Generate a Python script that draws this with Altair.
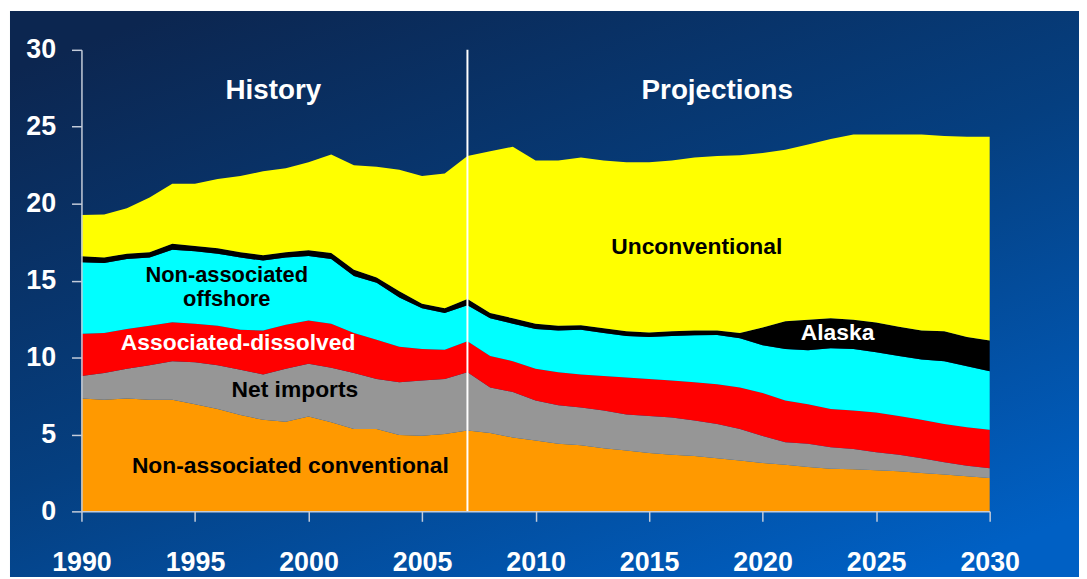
import altair as alt
import pandas as pd

years = list(range(1990, 2031))
series_names = ["Non-associated conventional", "Net imports", "Associated-dissolved",
                "Non-associated offshore", "Alaska", "Unconventional"]
series_colors = ["#FF9900", "#969696", "#FF0000", "#00FFFF", "#000000", "#FFFF00"]

nonassoc_conv = [7.33, 7.25, 7.33, 7.25, 7.25, 6.97, 6.65, 6.26, 5.95, 5.83, 6.17,
                 5.80, 5.35, 5.35, 4.97, 4.92, 5.03, 5.25, 5.10, 4.80, 4.60,
                 4.40, 4.30, 4.10, 3.95, 3.80, 3.68, 3.60, 3.46, 3.30, 3.15,
                 3.03, 2.88, 2.77, 2.73, 2.67, 2.60, 2.50, 2.39, 2.28, 2.17]
net_imports = [1.47, 1.75, 1.94, 2.25, 2.51, 2.73, 2.85, 2.94, 2.95, 3.44, 3.43,
               3.53, 3.65, 3.25, 3.43, 3.58, 3.57, 3.80, 2.95, 2.96, 2.60,
               2.50, 2.45, 2.45, 2.35, 2.40, 2.42, 2.30, 2.22, 2.05, 1.75,
               1.47, 1.52, 1.40, 1.33, 1.18, 1.08, 0.96, 0.81, 0.69, 0.63]
assoc_dissolved = [2.75, 2.60, 2.58, 2.56, 2.54, 2.50, 2.56, 2.60, 2.86, 2.86, 2.80,
                   2.87, 2.60, 2.56, 2.30, 2.06, 1.90, 2.00, 2.05, 2.00, 2.07,
                   2.15, 2.15, 2.25, 2.40, 2.40, 2.40, 2.50, 2.58, 2.70, 2.80,
                   2.70, 2.57, 2.48, 2.50, 2.58, 2.52, 2.49, 2.48, 2.49, 2.50]
offshore = [4.65, 4.55, 4.55, 4.44, 4.70, 4.70, 4.69, 4.70, 4.54, 4.37, 4.20,
            4.20, 3.70, 3.70, 3.20, 2.64, 2.40, 2.35, 2.45, 2.44, 2.58,
            2.71, 2.90, 2.80, 2.70, 2.73, 2.90, 3.04, 3.20, 3.20, 3.10,
            3.36, 3.50, 3.95, 4.00, 3.91, 3.90, 3.92, 4.08, 3.98, 3.80]
alaska = [0.38, 0.35, 0.35, 0.35, 0.40, 0.35, 0.35, 0.35, 0.35, 0.35, 0.37,
          0.40, 0.40, 0.34, 0.40, 0.30, 0.30, 0.40, 0.35, 0.35, 0.35,
          0.30, 0.30, 0.30, 0.30, 0.30, 0.30, 0.32, 0.30, 0.35, 1.15,
          1.79, 1.98, 1.96, 1.89, 1.94, 1.90, 1.89, 1.94, 1.89, 2.00]
unconventional = [2.69, 2.80, 2.95, 3.55, 3.90, 4.05, 4.50, 4.95, 5.45, 5.45, 5.73,
                  6.40, 6.80, 7.20, 7.90, 8.30, 8.76, 9.30, 10.50, 11.15, 10.60,
                  10.74, 10.90, 10.90, 11.00, 11.07, 11.10, 11.24, 11.34, 11.55, 11.35,
                  11.15, 11.40, 11.64, 12.05, 12.22, 12.50, 12.74, 12.70, 13.02, 13.25]

y_ticks = [0, 5, 10, 15, 20, 25, 30]
x_ticks = [1990, 1995, 2000, 2005, 2010, 2015, 2020, 2025, 2030]

all_series = [nonassoc_conv, net_imports, assoc_dissolved, offshore, alaska, unconventional]
rows = []
for k, (name, vals) in enumerate(zip(series_names, all_series)):
    for yr, v in zip(years, vals):
        rows.append({"year": yr, "value": v, "series": name, "k": k})
df = pd.DataFrame(rows)

W, H = 915, 465
PAD = {"left": 74, "top": 40, "right": 90, "bottom": 66}
FONT = "Liberation Sans"
AXC = "#c4ccda"

bg = alt.Chart(pd.DataFrame({"a": [0]})).mark_rect(
    color=alt.LinearGradient(
        gradient="linear",
        stops=[alt.GradientStop(offset=0, color="#0c2650"),
               alt.GradientStop(offset=0.5, color="#053f80"),
               alt.GradientStop(offset=1, color="#0060c4")],
        x1=0.15, y1=0, x2=0.85, y2=1),
).encode(x=alt.value(-72), x2=alt.value(W + PAD["right"]),
         y=alt.value(-39), y2=alt.value(H + PAD["bottom"]))

axis_common = dict(title=None, grid=False, domainColor=AXC, tickColor=AXC,
                   domainWidth=1.5, tickWidth=1.5, tickSize=10, labelColor="white",
                   labelFont=FONT, labelFontSize=27, labelFontWeight="bold",
                   labelFlush=False, labelOverlap=False, zindex=2)

area = alt.Chart(df).mark_area(interpolate="linear").encode(
    x=alt.X("year:Q", scale=alt.Scale(domain=[1990, 2030], nice=False, zero=False),
            axis=alt.Axis(values=x_ticks, format="d", labelPadding=29, **axis_common)),
    y=alt.Y("value:Q", stack="zero", scale=alt.Scale(domain=[0, 30], nice=False),
            axis=alt.Axis(values=y_ticks, labelPadding=16, **axis_common)),
    color=alt.Color("series:N", scale=alt.Scale(domain=series_names, range=series_colors),
                    legend=None),
    order=alt.Order("k:Q", sort="ascending"),
)

rule = alt.Chart(pd.DataFrame({"x": [2007]})).mark_rule(color="white", strokeWidth=2).encode(
    x="x:Q", y=alt.datum(0), y2=alt.datum(30))


def label(txt, x, y, color, size=23):
    return alt.Chart(pd.DataFrame({"a": [0]})).mark_text(
        font=FONT, fontSize=size, fontWeight="bold", color=color,
        align="center", baseline="middle",
    ).encode(x=alt.datum(x), y=alt.datum(y), text=alt.value(txt))


labels = [
    label("History", 1998.45, 27.3, "white", size=28),
    label("Projections", 2018.0, 27.3, "white", size=28),
    label("Unconventional", 2017.1, 17.2, "black"),
    label("Alaska", 2023.3, 11.6, "white"),
    label("Non-associated", 1996.4, 15.35, "black", size=22),
    label("offshore", 1996.4, 13.8, "black", size=22),
    label("Associated-dissolved", 1996.9, 10.97, "white"),
    label("Net imports", 1999.4, 7.87, "black"),
    label("Non-associated conventional", 1999.2, 2.97, "black"),
]

chart = alt.layer(bg, area, rule, *labels).properties(
    width=W, height=H, padding=PAD,
    autosize=alt.AutoSizeParams(type="none"),
    background="white",
).configure_view(stroke=None)

chart.save("out.html", embed_options={"renderer": "svg", "actions": False})
